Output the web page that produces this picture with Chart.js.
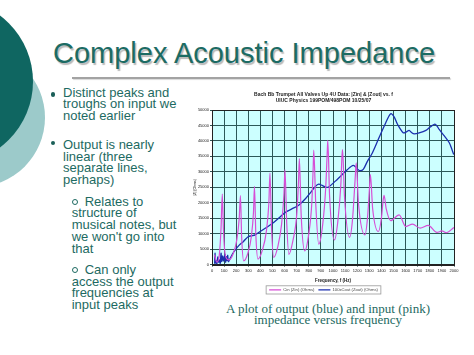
<!DOCTYPE html>
<html><head><meta charset="utf-8">
<script src="https://cdn.jsdelivr.net/npm/chart.js@4/dist/chart.umd.min.js"></script>
<style>
html,body{margin:0;padding:0;background:#fff;}
#slide{position:relative;width:474px;height:355px;overflow:hidden;background:#fff;font-family:"Liberation Sans",Arial,sans-serif;color:#1d6a62;}
.circ{position:absolute;border-radius:50%;}
#c1{background:#9ccaca;left:-94px;top:48px;width:139px;height:139px;}
#c2{background:#0f6661;left:-132px;top:-1.5px;width:165px;height:165px;}
#title{position:absolute;left:53px;top:37px;font-size:29px;line-height:32px;white-space:nowrap;color:#1c6b63;text-shadow:1.5px 1.5px 1px rgba(0,0,0,0.28);}
#rule{position:absolute;left:72px;top:77px;width:378px;height:2px;background:#a3a3a3;box-shadow:1px 1px 1px rgba(0,0,0,0.15);}
.p{position:absolute;font-size:13px;line-height:11.7px;white-space:nowrap;color:#1d6a62;}
.dot{position:absolute;width:4.5px;height:4.5px;border-radius:50%;background:#1a5f58;}
.sub{display:inline-block;width:4px;height:4px;border:1px solid #1d6a62;border-radius:50%;margin-right:7px;vertical-align:1px;}
#cap{position:absolute;left:200px;width:256px;top:303px;text-align:center;font-family:"Liberation Serif","Times New Roman",serif;font-size:13px;line-height:11px;color:#1d6a62;}
#wrap{position:absolute;left:193px;top:88px;width:274px;height:216px;}
</style></head>
<body>
<div id="slide">
  <div class="circ" id="c1"></div>
  <div class="circ" id="c2"></div>
  <div id="title">Complex Acoustic Impedance</div>
  <div id="rule"></div>
  <div class="dot" style="left:50.5px;top:92px"></div>
  <div class="p" style="left:63px;top:86.5px">Distinct peaks and<br>troughs on input we<br>noted earlier</div>
  <div class="dot" style="left:50.5px;top:140.5px"></div>
  <div class="p" style="left:63px;top:139px">Output is nearly<br>linear (three<br>separate lines,<br>perhaps)</div>
  <div class="p" style="left:71.7px;top:195.7px"><span class="sub"></span>Relates to<br>structure of<br>musical notes, but<br>we won't go into<br>that</div>
  <div class="p" style="left:71.7px;top:264px"><span class="sub"></span>Can only<br>access the output<br>frequencies at<br>input peaks</div>
  <div id="cap">A plot of output (blue) and input (pink)<br>impedance versus frequency</div>
  <div id="wrap"><canvas id="chart" width="274" height="216"></canvas></div>
</div>
<script>
// ---- data ----
const titleLines = ["Bach Bb Trumpet All Valves Up 4U Data: |Zin| & |Zout| vs. f", "UIUC Physics 199POM/498POM 10/25/07"];
const seriesNames = ["Cin (Zin) (Ohms)", "100xCout (Zout) (Ohms)"];
const xAxisTitle = "Frequency, f (Hz)";
const yAxisTitle = "|Z| (Ohms)";
const xRange = [0, 2000];
const yRange = [0, 50000];

const zinFreq = [20,40,60,75,85,95,110,140,175,205,225,235,245,262,295,325,343,351,362,380,415,450,470,479,492,510,545,575,595,603,617,635,670,700,715,722,737,766,800,825,836,841,857,882,915,940,952,957,972,1012,1040,1065,1074,1079,1095,1137,1160,1182,1192,1210,1264,1285,1302,1309,1328,1375,1400,1415,1422,1440,1477,1546,1602,1657,1720,1787,1859,1900,1934,2000];
const zinValues = [3200,800,3000,12000,22800,11000,3000,1500,3500,8000,15000,22300,9000,1200,3500,9000,17000,25300,10000,1800,4500,11000,20000,29600,12000,2300,6000,13000,23000,30700,14000,3300,8000,16000,27000,34300,16000,4400,10000,20000,31000,37000,20000,6600,13000,25000,36000,40200,22000,8000,14000,26000,35000,37200,22000,8800,14000,27000,32900,20000,9600,15000,25000,29100,18000,10700,15000,21000,22400,18000,14200,16100,12300,13100,11800,12700,10400,10900,10300,12000];

const zoutFreq = [22,25,28,35,40,48,55,62,68,75,80,88,95,100,108,112,118,125,130,136,150,170,191,225,260,301,329,357,398,450,495,550,606,660,716,772,815,855,882,910,938,960,1020,1062,1118,1168,1200,1220,1250,1284,1325,1380,1436,1477,1505,1533,1582,1610,1629,1650,1671,1712,1768,1803,1842,1860,1878,1920,1961,1985,1998];
const zoutValues = [300,3700,500,1200,200,2500,800,1500,400,3700,1000,2800,1200,2000,3300,800,2600,1300,3000,1000,2000,3500,4700,6300,7500,9100,9300,9600,10700,12000,13200,15000,16900,18000,19200,21300,23300,25300,26000,25600,25100,25000,27000,28600,30700,32100,31000,30400,30800,33400,36100,41000,45900,48800,47800,45400,42600,43000,43400,42700,42300,42600,43400,44500,45400,44800,43700,41600,39400,37000,35600];

const toPts = (xs, ys) => xs.map((x, i) => ({x, y: ys[i]}));

const plotBg = {
  id: 'plotBg',
  beforeDatasetsDraw(chart) {},
  beforeDraw(chart) {
    const {ctx, chartArea: a} = chart;
    ctx.save(); ctx.fillStyle = '#ccffff';
    ctx.fillRect(a.left, a.top, a.right - a.left, a.bottom - a.top);
    ctx.restore();
  },
  afterDatasetsDraw(chart) {
    const {ctx, chartArea: a} = chart;
    ctx.save(); ctx.strokeStyle = '#222'; ctx.lineWidth = 1;
    ctx.strokeRect(Math.round(a.left) + 0.5, Math.round(a.top) + 0.5, Math.round(a.right - a.left), Math.round(a.bottom - a.top));
    ctx.restore();
  },
  afterDraw(chart) {
    const l = chart.legend;
    if (!l || !l.legendHitBoxes || !l.legendHitBoxes.length) return;
    let x0 = Infinity, y0 = Infinity, x1 = -Infinity, y1 = -Infinity;
    l.legendHitBoxes.forEach(b => { x0 = Math.min(x0, b.left); y0 = Math.min(y0, b.top); x1 = Math.max(x1, b.left + b.width); y1 = Math.max(y1, b.top + b.height); });
    const ctx = chart.ctx;
    ctx.save(); ctx.strokeStyle = '#999'; ctx.lineWidth = 0.8;
    ctx.strokeRect(x0 - 3, y0 - 2, x1 - x0 + 6, y1 - y0 + 4);
    ctx.restore();
  }
};

new Chart(document.getElementById('chart'), {
  type: 'scatter',
  data: {
    datasets: [
      {label: seriesNames[0], data: toPts(zinFreq, zinValues), showLine: true, borderColor: '#d64fd6', backgroundColor: '#d64fd6', borderWidth: 1.2, pointRadius: 0, pointStyle: 'line', cubicInterpolationMode: 'monotone'},
      {label: seriesNames[1], data: toPts(zoutFreq, zoutValues), showLine: true, borderColor: '#1b2fae', backgroundColor: '#1b2fae', borderWidth: 1.3, pointRadius: 0, pointStyle: 'line', tension: 0.3}
    ]
  },
  options: {
    responsive: false, animation: false, devicePixelRatio: 1,
    layout: {padding: {left: 0, right: 13, top: 0, bottom: 2}},
    plugins: {
      title: {display: true, text: titleLines, font: {size: 5, weight: 'bold', family: 'Liberation Sans'}, color: '#222', padding: {top: 4, bottom: 6}, lineHeight: 1.6},
      legend: {position: 'bottom', labels: {usePointStyle: true, pointStyleWidth: 12, boxHeight: 3, font: {size: 4.2, family: 'Liberation Sans'}, color: '#444', padding: 4}},
      tooltip: {enabled: false}
    },
    scales: {
      x: {type: 'linear', min: xRange[0], max: xRange[1],
        ticks: {stepSize: 100, autoSkip: false, maxRotation: 0, font: {size: 4, family: 'Liberation Sans'}, color: '#222', padding: 2, callback: v => String(v)},
        grid: {color: '#2c5858', lineWidth: 1, tickLength: 2},
        border: {color: '#222'},
        title: {display: true, text: xAxisTitle, font: {size: 4.5, weight: 'bold', family: 'Liberation Sans'}, color: '#222', padding: {top: 3, bottom: 0}}},
      y: {min: yRange[0], max: yRange[1],
        ticks: {stepSize: 5000, font: {size: 4, family: 'Liberation Sans'}, color: '#222', padding: 1, callback: v => String(v)},
        grid: {color: '#2c5858', lineWidth: 1, tickLength: 2},
        border: {color: '#222'},
        title: {display: true, text: yAxisTitle, font: {size: 3.5, family: 'Liberation Sans'}, color: '#222', padding: 0},
        afterFit(s) { s.width = 19; }}
    }
  },
  plugins: [plotBg]
});
</script>
</body></html>
